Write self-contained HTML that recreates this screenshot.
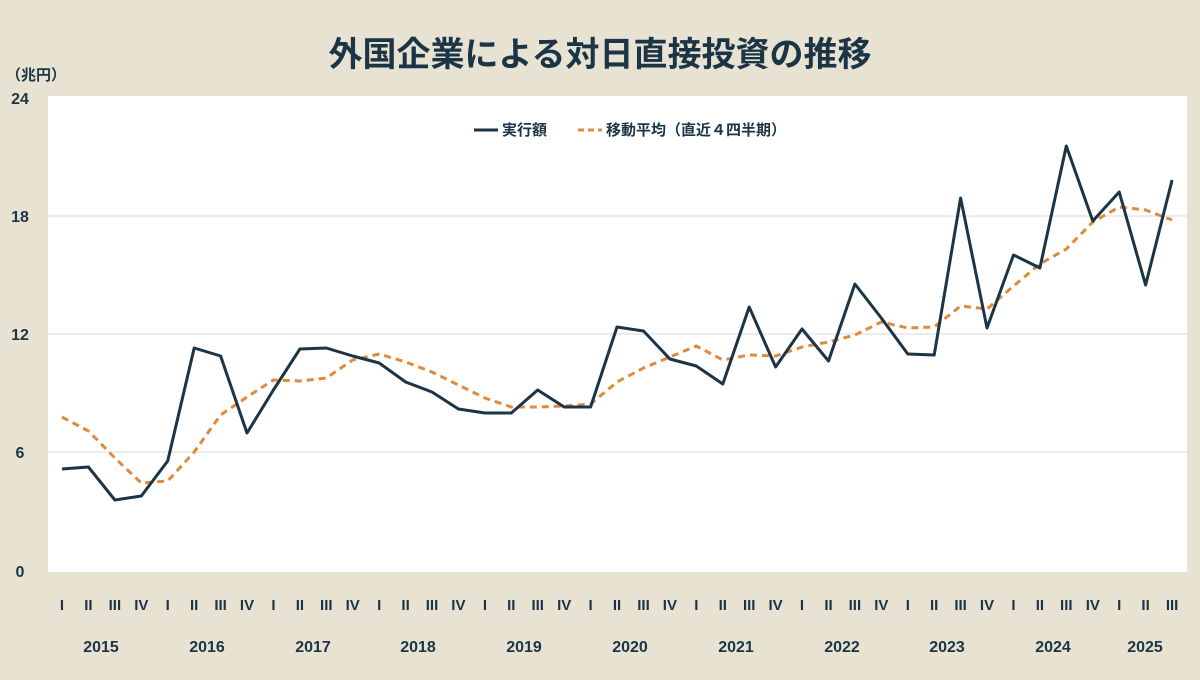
<!DOCTYPE html>
<html><head><meta charset="utf-8"><style>
body{margin:0;width:1200px;height:675px;background:#e8e2d2;overflow:hidden;font-family:"Liberation Sans","Noto Sans CJK JP",sans-serif}
</style></head><body>
<svg width="1200" height="675" xmlns="http://www.w3.org/2000/svg" font-family="Liberation Sans, Noto Sans CJK JP, sans-serif">
<rect width="1200" height="675" fill="#e8e2d2"/>
<text x="600" y="66" text-anchor="middle" font-size="34" font-weight="bold" fill="#1b3446">外国企業による対日直接投資の推移</text>
<text x="6" y="80" font-size="15" font-weight="bold" fill="#1b3446">（兆円）</text>
<rect x="48" y="96" width="1139" height="476" fill="#fff"/>
<g stroke="#d8d8d8" stroke-width="1">
<line x1="48" y1="216" x2="1187" y2="216"/><line x1="48" y1="334" x2="1187" y2="334"/><line x1="48" y1="452" x2="1187" y2="452"/>
</g>
<g font-size="16" font-weight="bold" fill="#1b3446" text-anchor="middle">
<text x="20" y="104">24</text><text x="20" y="222">18</text><text x="20" y="340">12</text><text x="20" y="458">6</text><text x="20" y="577">0</text>
</g>
<g font-size="15" font-weight="bold" fill="#1b3446">
<line x1="474" y1="130" x2="498" y2="130" stroke="#1b3446" stroke-width="3"/>
<text x="502" y="135">実行額</text>
<line x1="578" y1="130" x2="602" y2="130" stroke="#e08a3c" stroke-width="3" stroke-dasharray="6,4"/>
<text x="606" y="135">移動平均（直近４四半期）</text>
</g>
<g id="ticks" font-size="15" font-weight="bold" fill="#1b3446" text-anchor="middle"></g>
<g font-size="16" font-weight="bold" fill="#1b3446" text-anchor="middle">
<text x="101" y="652">2015</text><text x="207" y="652">2016</text><text x="313" y="652">2017</text><text x="418" y="652">2018</text><text x="524" y="652">2019</text><text x="630" y="652">2020</text><text x="736" y="652">2021</text><text x="842" y="652">2022</text><text x="947" y="652">2023</text><text x="1053" y="652">2024</text><text x="1145" y="652">2025</text>
</g>
<polyline id="avg" fill="none" stroke="#e08a3c" stroke-width="3" stroke-dasharray="7,5"/>
<polyline id="act" fill="none" stroke="#1b3446" stroke-width="3" stroke-linejoin="round"/>
</svg>
<script>
var a=[469,467,500,496,461,348,356,433,390,349,348,356,363,382,392,409,413,413,390,407,407,327,331,359,366,384,307,367,329,361,284,318,354,355,198,328,255,268,146,221,192,285,180];
var m=[417,431,458,483,481,452,415,397,380,381,378,360,354,362,372,385,398,407,407,406,404,382,368,357,346,360,355,356,347,342,335,322,328,327,306,309,286,264,249,222,207,210,220];
function pts(v){return v.map(function(y,i){return (62+26.43*i).toFixed(1)+","+y}).join(" ")}
document.getElementById("act").setAttribute("points",pts(a));
document.getElementById("avg").setAttribute("points",pts(m));
var q=["I","II","III","IV"],g=document.getElementById("ticks"),s="";
for(var i=0;i<43;i++){s+='<text x="'+(62+26.43*i).toFixed(1)+'" y="610">'+q[i%4]+'</text>';}
g.innerHTML=s;
</script>
</body></html>
